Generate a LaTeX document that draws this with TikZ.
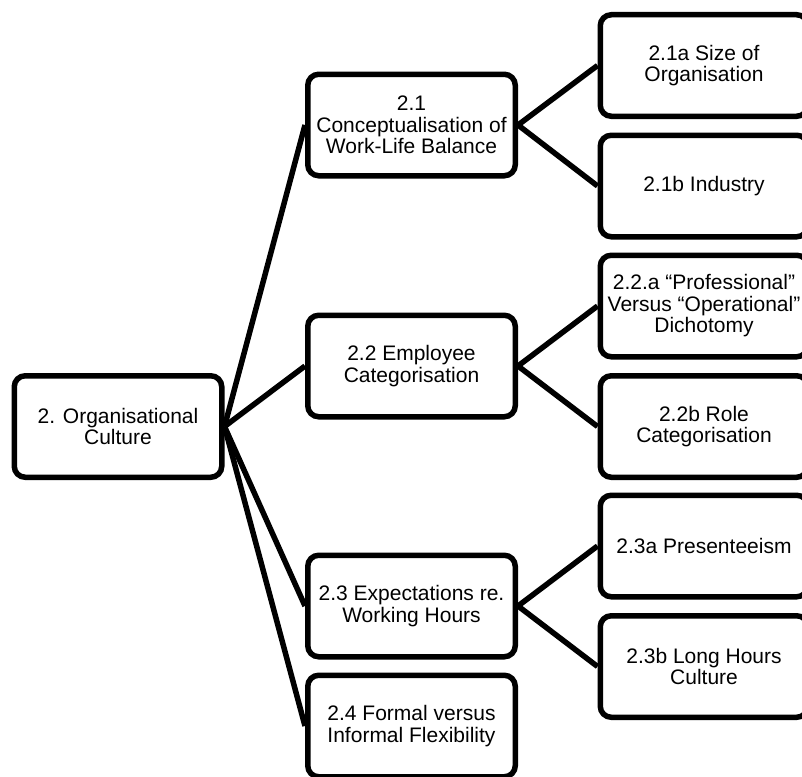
\documentclass[tikz,border=0pt]{standalone}
\usepackage{fontspec}
\setmainfont{Liberation Sans}
\begin{document}
\begin{tikzpicture}[x=1pt,y=-1pt,
  box/.style={draw=black,line width=5.5pt,rounded corners=11pt,fill=white,
    minimum width=207.5pt,minimum height=101.5pt,align=center,inner sep=0pt,
    font=\fontsize{21}{21.5}\selectfont},
  link/.style={draw=black,line width=5.5pt}]
\useasboundingbox (0,0) rectangle (802,776);
\clip (0,0) rectangle (802,776);
% nodes
\node[box] (root) at (118,426.5) {2. Organisational\\Culture};
\node[box] (m1) at (411.5,125) {2.1\\Conceptualisation of\\Work-Life Balance};
\node[box] (m2) at (411.5,366) {2.2 Employee\\Categorisation};
\node[box] (m3) at (411.5,606) {2.3 Expectations re.\\Working Hours};
\node[box] (m4) at (411.5,726) {2.4 Formal versus\\Informal Flexibility};
\node[box] (r1) at (704,65.5) {2.1a Size of\\Organisation};
\node[box] (r2) at (704,186) {2.1b Industry};
\node[box] (r3) at (704,306) {2.2.a “Professional”\\Versus “Operational”\\Dichotomy};
\node[box] (r4) at (704,426.5) {2.2b Role\\Categorisation};
\node[box] (r5) at (704,546) {2.3a Presenteeism};
\node[box] (r6) at (704,666.5) {2.3b Long Hours\\Culture};
% connectors
\foreach \m in {m1,m2,m3,m4} \draw[link] (root.east) -- (\m.west);
\draw[link] (m1.east) -- (r1.west);
\draw[link] (m1.east) -- (r2.west);
\draw[link] (m2.east) -- (r3.west);
\draw[link] (m2.east) -- (r4.west);
\draw[link] (m3.east) -- (r5.west);
\draw[link] (m3.east) -- (r6.west);
\end{tikzpicture}
\end{document}
